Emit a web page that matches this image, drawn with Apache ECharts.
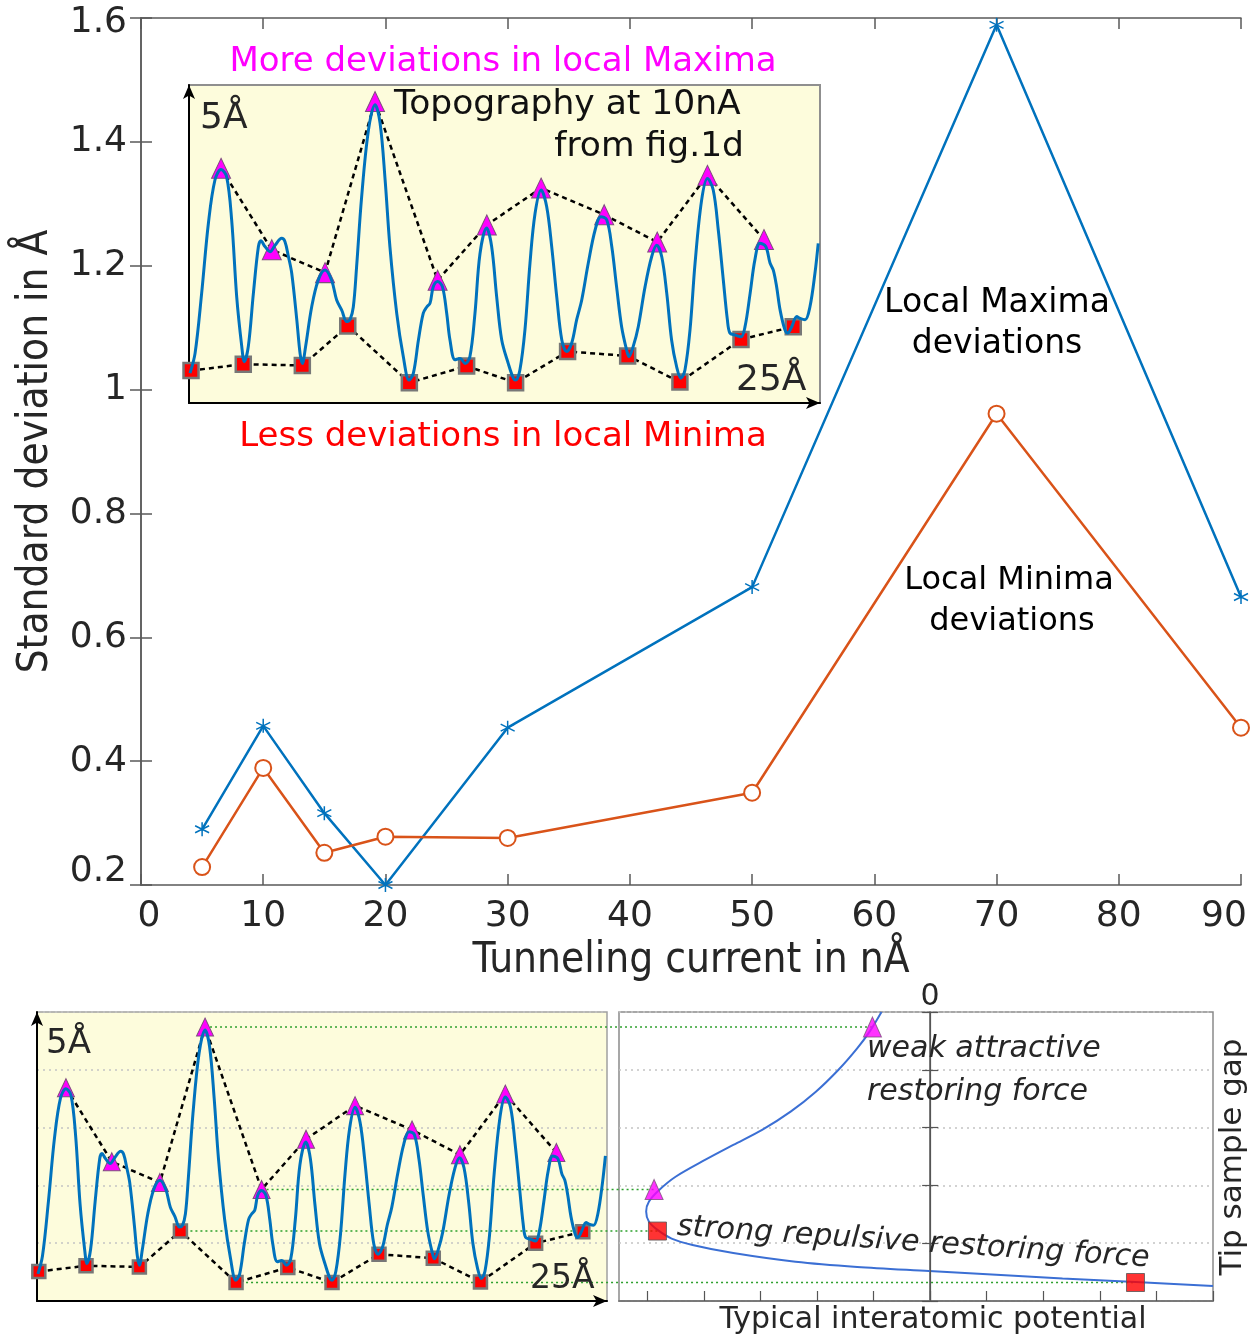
<!DOCTYPE html>
<html>
<head>
<meta charset="utf-8">
<script src="https://cdn.jsdelivr.net/npm/echarts@6.0.0/dist/echarts.min.js"></script>
<style>
  html, body { margin: 0; padding: 0; background: #fff; }
  #main { width: 1256px; height: 1340px; }
</style>
</head>
<body>
<div id="main"></div>
<script>
// Standard deviation of the local extrema versus tunneling current
const current    = [5, 10, 15, 20, 30, 50, 70, 90];
const maximaDev  = [0.290, 0.457, 0.316, 0.200, 0.454, 0.681, 1.589, 0.665];
const minimaDev  = [0.229, 0.389, 0.252, 0.278, 0.276, 0.349, 0.961, 0.454];
const currentTicks = [0, 10, 20, 30, 40, 50, 60, 70, 80, 90];
const devTicks     = [0.2, 0.4, 0.6, 0.8, 1.0, 1.2, 1.4, 1.6];

// Topography line profile at 10nA (position and height in Å)
const topoX = [0.04,0.24,0.50,0.77,1.03,1.27,1.49,1.69,1.89,2.09,2.19,2.35,2.55,2.75,2.85,3.01,3.21,3.41,3.67,3.80,
  3.94,4.07,4.27,4.40,4.49,4.62,4.86,5.12,5.39,5.65,5.85,6.05,6.25,6.38,6.51,6.64,6.84,7.11,7.37,7.57,
  7.77,7.96,8.23,8.49,8.72,8.89,9.09,9.28,9.42,9.55,9.68,9.85,10.04,10.21,10.34,10.54,10.74,10.94,11.13,11.33,
  11.53,11.79,11.99,12.19,12.39,12.65,12.85,12.94,13.11,13.31,13.51,13.71,13.95,14.17,14.37,14.57,14.77,14.96,15.16,15.36,
  15.56,15.82,16.09,16.32,16.55,16.75,16.94,17.14,17.34,17.43,17.60,17.80,18.07,18.33,18.53,18.73,18.93,19.12,19.32,19.49,
  19.65,19.85,20.05,20.31,20.54,20.77,20.97,21.17,21.33,21.43,21.63,21.87,22.03,22.23,22.42,22.62,22.85,23.02,23.15,23.28,
  23.42,23.61,23.72,23.88,24.08,24.21,24.41,24.60,24.80,24.93];
const topoY = [0.47,0.78,1.72,2.83,3.51,3.67,3.56,2.88,1.67,0.89,0.65,0.89,1.72,2.46,2.55,2.46,2.38,2.48,2.59,2.54,
  2.30,2.04,1.31,0.78,0.62,0.89,1.51,1.93,2.09,1.93,1.62,1.46,1.28,1.31,1.51,2.14,3.24,4.29,4.69,4.40,
  3.51,2.46,1.41,0.73,0.36,0.47,0.99,1.41,1.51,1.57,1.83,1.91,1.83,1.41,0.99,0.68,0.70,0.62,0.73,1.41,
  2.35,2.75,2.46,1.67,0.99,0.62,0.39,0.36,0.52,1.15,2.20,2.98,3.35,3.09,2.46,1.67,0.99,0.81,0.94,1.31,
  1.62,2.20,2.72,2.93,2.88,2.46,1.83,1.20,0.83,0.73,0.89,1.20,1.83,2.30,2.48,2.30,1.72,0.99,0.57,0.39,
  0.52,1.15,2.20,3.19,3.53,3.35,2.72,1.93,1.31,1.10,1.07,1.04,1.20,1.72,2.25,2.51,2.46,2.20,2.09,1.83,
  1.46,1.15,1.10,1.20,1.36,1.33,1.31,1.51,2.04,2.51];

// Local maxima and minima picked on the profile
const maxX = [1.27, 3.28, 5.39, 7.37, 9.85, 11.80, 13.95, 16.45, 18.55, 20.54, 22.78];
const maxY = [3.69, 2.41, 2.05, 4.74, 1.93, 2.80, 3.38, 2.96, 2.53, 3.58, 2.57];
const minX = [0.08, 2.15, 4.49, 6.29, 8.73, 11.00, 12.94, 15.00, 17.38, 19.45, 21.87, 23.94];
const minY = [0.51, 0.61, 0.59, 1.21, 0.32, 0.58, 0.32, 0.81, 0.74, 0.33, 1.00, 1.20];

// Typical interatomic potential (energy, tip sample gap in Å)
const potX = [-0.86,-1.07,-1.29,-1.62,-2.02,-2.46,-2.97,-3.48,-3.98,-4.50,-4.79,-4.97,-5.02,-4.97,-4.82,-4.57,-4.20,-3.48,-2.38,-1.29,-0.02,1.25,2.34,3.63,5.0];
const potY = [5.0,4.66,4.37,4.00,3.62,3.28,2.96,2.70,2.44,2.15,1.92,1.72,1.55,1.37,1.23,1.08,0.97,0.83,0.68,0.59,0.52,0.45,0.39,0.33,0.26];
const potTicks = [-5, -4, -3, -2, -1, 0, 1, 2, 3, 4, 5];

// Which profile extrema are mapped onto the potential, and where they sit on it
const mappedMax = [3, 4];          // indices into maxX / maxY
const mappedMaxPot = [-1.02, -4.88];
const mappedMin = [3, 4];          // indices into minX / minY
const mappedMinPot = [-4.82, 3.63];

const zip = (a, b) => a.map((v, i) => [v, b[i]]);

const BLUE = '#0072BD', ORANGE = '#D95319', INK = '#262626', AXIS = '#5a5a5a';
const PAPER = '#fdfcdc';
const FONT = 'DejaVu Sans';
const asterisk = 'path://M0,-10L0,10M-8.66,-5L8.66,5M-8.66,5L8.66,-5';

const insetAxes = (grid, withGrid) => ({
  x: {
    gridIndex: grid, type: 'value', min: 0, max: 25,
    axisLine: { show: true, lineStyle: { color: '#000', width: 2 }, symbol: ['none', 'arrow'], symbolSize: [9, 14] },
    axisTick: { show: false }, axisLabel: { show: false }, splitLine: { show: false }
  },
  y: {
    gridIndex: grid, type: 'value', min: 0, max: 5, interval: 1,
    axisLine: { show: true, lineStyle: { color: '#000', width: 2 }, symbol: ['none', 'arrow'], symbolSize: [9, 14] },
    axisTick: { show: false }, axisLabel: { show: false },
    splitLine: { show: withGrid, lineStyle: { color: '#c4c4c4', type: [2, 4], width: 1.5 } }
  }
});
const inset1 = insetAxes(1, false);
const inset2 = insetAxes(2, true);

function profileSeries(xi, yi, triSize, sqSize) {
  return [
    {
      type: 'line', xAxisIndex: xi, yAxisIndex: yi, z: 4,
      data: zip(maxX, maxY), symbol: 'triangle', symbolSize: triSize,
      itemStyle: { color: '#ff00ff', borderColor: '#7d4f7d', borderWidth: 1 },
      lineStyle: { color: '#000', width: 2.5, type: [5, 4] }
    },
    {
      type: 'line', xAxisIndex: xi, yAxisIndex: yi, z: 4,
      data: zip(minX, minY), symbol: 'rect', symbolSize: sqSize,
      itemStyle: { color: '#ff0000', borderColor: '#777', borderWidth: 2.5 },
      lineStyle: { color: '#000', width: 2.5, type: [5, 4] }
    },
    {
      type: 'line', xAxisIndex: xi, yAxisIndex: yi, z: 5,
      data: zip(topoX, topoY), showSymbol: false, smooth: 0.35,
      lineStyle: { color: BLUE, width: 3 }
    }
  ];
}

const txt = (text, x, y, size, opts = {}) => ({
  type: 'text', x, y, z: 20, rotation: opts.rotation || 0,
  style: {
    text, fill: opts.color || INK, align: opts.align || 'left', verticalAlign: 'middle',
    font: (opts.italic ? 'italic ' : '') + size + 'px ' + (opts.family || ('"' + FONT + '"'))
  }
});

const tickFont = { fontSize: 36, fontFamily: FONT, color: INK };

const option = {
  animation: false,
  grid: [
    { left: 141, top: 18, width: 1100, height: 867, show: false, outerBoundsMode: 'none', containLabel: false },
    { left: 189, top: 85, width: 631, height: 318, show: true, backgroundColor: PAPER, borderColor: '#8f8f8f', borderWidth: 2, outerBoundsMode: 'none' },
    { left: 37, top: 1012, width: 570, height: 289, show: true, backgroundColor: PAPER, borderColor: '#a0a0a0', borderWidth: 1.5, outerBoundsMode: 'none' },
    { left: 619, top: 1012, width: 594, height: 289, show: true, backgroundColor: '#fff', borderColor: '#8a8a8a', borderWidth: 1.5, outerBoundsMode: 'none' }
  ],
  xAxis: [
    {
      gridIndex: 0, type: 'value', min: 0, max: 90, interval: 10, position: 'bottom',
      name: 'Tunneling current in nÅ', nameLocation: 'middle', nameGap: 54,
      nameTextStyle: { fontSize: 42, fontFamily: 'DejaVu Sans Condensed', color: INK },
      axisLine: { lineStyle: { color: AXIS, width: 1.5 } },
      axisTick: { inside: true, length: 11, lineStyle: { color: AXIS, width: 1.5 } },
      axisLabel: Object.assign({}, tickFont, {
        margin: 14,
        formatter: v => {
          if (v === currentTicks[0]) return '{first|' + v + '}';
          if (v === currentTicks[currentTicks.length - 1]) return '{last|' + v + '}';
          return String(v);
        },
        rich: {
          first: Object.assign({}, tickFont, { padding: [0, 0, 0, 16] }),
          last: Object.assign({}, tickFont, { padding: [0, 34, 0, 0] })
        }
      }),
      splitLine: { show: false }
    },
    {
      gridIndex: 0, type: 'value', min: 0, max: 90, interval: 10, position: 'top',
      axisLine: { lineStyle: { color: AXIS, width: 1.5 } },
      axisTick: { inside: true, length: 11, lineStyle: { color: AXIS, width: 1.5 } },
      axisLabel: { show: false }, splitLine: { show: false }
    },
    inset1.x,
    inset2.x,
    {
      gridIndex: 3, type: 'value', min: -5.5, max: 5, position: 'bottom',
      axisLine: { lineStyle: { color: '#777', width: 1.5 } },
      axisTick: { inside: true, length: 10, customValues: potTicks, lineStyle: { color: '#555', width: 1.2 } },
      axisLabel: { show: false }, splitLine: { show: false }
    },
    {
      gridIndex: 3, type: 'value', min: -5.5, max: 5, position: 'top',
      axisLine: { lineStyle: { color: '#777', width: 1.5 } },
      axisTick: { show: false },
      axisLabel: { show: true, customValues: [0], fontSize: 30, fontFamily: FONT, color: INK, margin: 0 },
      splitLine: { show: false }
    }
  ],
  yAxis: [
    {
      gridIndex: 0, type: 'value', min: 0.2, max: 1.6, interval: 0.2, position: 'left',
      name: 'Standard deviation in Å', nameLocation: 'middle', nameGap: 84, nameRotate: 90,
      nameTextStyle: { fontSize: 42, fontFamily: 'DejaVu Sans Condensed', color: INK },
      axisLine: { lineStyle: { color: AXIS, width: 1.5 } },
      axisTick: { inside: true, length: 11, lineStyle: { color: AXIS, width: 1.5 } },
      axisLabel: Object.assign({}, tickFont, {
        margin: 14,
        formatter: v => {
          const s = String(Math.round(v * 10) / 10);
          if (Math.abs(v - devTicks[0]) < 1e-9) return '{low|' + s + '}';
          if (Math.abs(v - devTicks[devTicks.length - 1]) < 1e-9) return '{high|' + s + '}';
          return s;
        },
        rich: {
          low: Object.assign({}, tickFont, { padding: [0, 0, 26, 0] }),
          high: Object.assign({}, tickFont, { padding: [10, 0, 0, 0] })
        }
      }),
      splitLine: { show: false }
    },
    {
      gridIndex: 0, type: 'value', min: 0.2, max: 1.6, interval: 0.2, position: 'right',
      axisLine: { lineStyle: { color: AXIS, width: 1.5 } },
      axisTick: { inside: true, length: 11, lineStyle: { color: AXIS, width: 1.5 } },
      axisLabel: { show: false }, splitLine: { show: false }
    },
    inset1.y,
    inset2.y,
    {
      gridIndex: 3, type: 'value', min: 0, max: 5, interval: 1, position: 'left',
      axisLine: { lineStyle: { color: '#777', width: 1.5 } },
      axisTick: { inside: true, length: 8, lineStyle: { color: '#555', width: 1.2 } },
      axisLabel: { show: false },
      splitLine: { show: true, lineStyle: { color: '#c4c4c4', type: [2, 4], width: 1.5 } }
    },
    {
      gridIndex: 3, type: 'value', min: 0, max: 5, interval: 1, position: 'right',
      axisLine: { lineStyle: { color: '#777', width: 1.5 } },
      axisTick: { inside: true, length: 8, lineStyle: { color: '#555', width: 1.2 } },
      axisLabel: { show: false }, splitLine: { show: false }
    }
  ],
  series: [
    {
      name: 'Local Maxima deviations', type: 'line', xAxisIndex: 0, yAxisIndex: 0,
      data: zip(current, maximaDev), symbol: asterisk, symbolSize: 14,
      itemStyle: { color: BLUE, borderColor: BLUE, borderWidth: 1.5 },
      lineStyle: { color: BLUE, width: 2.5 }, emphasis: { disabled: true }
    },
    {
      name: 'Local Minima deviations', type: 'line', xAxisIndex: 0, yAxisIndex: 0,
      data: zip(current, minimaDev), symbol: 'emptyCircle', symbolSize: 16,
      itemStyle: { color: ORANGE, borderWidth: 1.5 },
      lineStyle: { color: ORANGE, width: 2.5 }, emphasis: { disabled: true }
    },
    ...profileSeries(2, 2, [19, 20], 15),
    ...profileSeries(3, 3, [17, 18], 13),
    {
      type: 'line', xAxisIndex: 4, yAxisIndex: 4, z: 3,
      data: zip(potX, potY), showSymbol: false, smooth: 0.3,
      lineStyle: { color: '#3b6fd4', width: 2 },
      markLine: {
        silent: true, symbol: ['none', 'none'], label: { show: false },
        lineStyle: { color: '#555', type: 'solid', width: 1.2 },
        data: [{ xAxis: 0 }]
      }
    },
    {
      type: 'scatter', xAxisIndex: 4, yAxisIndex: 4, z: 6,
      data: mappedMax.map((k, i) => [mappedMaxPot[i], maxY[k]]),
      symbol: 'triangle', symbolSize: [18, 20],
      itemStyle: { color: '#ff00ff', borderColor: '#7d4f7d', borderWidth: 1 }
    },
    {
      type: 'scatter', xAxisIndex: 4, yAxisIndex: 4, z: 6,
      data: mappedMin.map((k, i) => [mappedMinPot[i], minY[k]]),
      symbol: 'rect', symbolSize: 18,
      itemStyle: { color: '#ff0000', borderColor: '#555', borderWidth: 1 }
    }
  ],
  graphic: [
    txt('Local Maxima', 997, 303, 33, { align: 'center', color: '#000' }),
    txt('deviations', 997, 344, 33, { align: 'center', color: '#000' }),
    txt('Local Minima', 1009, 581, 32, { align: 'center', color: '#000' }),
    txt('deviations', 1012, 622, 32, { align: 'center', color: '#000' }),
    txt('More deviations in local Maxima', 503, 62, 34, { align: 'center', color: '#ff00ff' }),
    txt('Less deviations in local Minima', 503, 437, 34, { align: 'center', color: '#ff0000' }),
    txt('Topography at 10nA', 394, 105, 34.5, { color: '#111' }),
    txt('from fig.1d', 744, 147, 34.5, { align: 'right', color: '#111' }),
    txt('5Å', 200, 119, 36),
    txt('25Å', 736, 381, 36),
    txt('5Å', 46, 1044, 34),
    txt('25Å', 530, 1279, 33),
    txt('weak attractive', 867, 1049, 30, { italic: true }),
    txt('restoring force', 867, 1092, 30, { italic: true }),
    txt('strong repulsive restoring force', 677, 1227, 30, { italic: true, rotation: -0.067 }),
    txt('Typical interatomic potential', 933, 1320, 30, { align: 'center' }),
    txt('Tip sample gap', 1233, 1157, 31, { align: 'center', rotation: Math.PI / 2 })
  ]
};

const chart = echarts.init(document.getElementById('main'));
chart.setOption(option);

// Dotted guides carrying each picked extremum across to its place on the potential
const guides = [];
const addGuide = (fromPt, toPt) => {
  const a = chart.convertToPixel({ gridIndex: 2 }, fromPt);
  const b = chart.convertToPixel({ gridIndex: 3 }, toPt);
  guides.push({
    type: 'line', z: 3, silent: true,
    shape: { x1: a[0], y1: a[1], x2: b[0], y2: b[1] },
    style: { stroke: '#2ca02c', lineWidth: 1.5, lineDash: [2, 3] }
  });
};
mappedMax.forEach((k, i) => addGuide([maxX[k], maxY[k]], [mappedMaxPot[i], maxY[k]]));
mappedMin.forEach((k, i) => addGuide([minX[k], minY[k]], [mappedMinPot[i], minY[k]]));
chart.setOption({ graphic: option.graphic.concat(guides) });
</script>
</body>
</html>
